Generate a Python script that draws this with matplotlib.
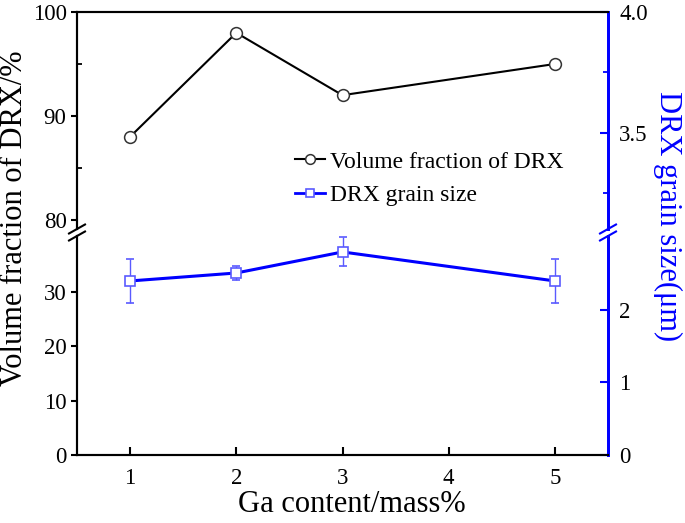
import matplotlib
matplotlib.use("Agg")
import matplotlib.pyplot as plt
from matplotlib.lines import Line2D

plt.rcParams['font.family'] = ['Liberation Serif', 'DejaVu Serif']

# data
ga = [1, 2, 3, 5]
drx_fraction = [88, 98, 92, 95]
grain_size = [2.40, 2.51, 2.80, 2.40]
grain_err = [0.30, 0.10, 0.20, 0.30]
x_ticks = [1, 2, 3, 4, 5]

W, H = 685, 523
fig = plt.figure(figsize=(W / 100, H / 100), dpi=100)

def frac_box(x0, y0, x1, y1):
    # pixel box (top-left origin) -> figure fractions
    return [x0 / W, 1 - y1 / H, (x1 - x0) / W, (y1 - y0) / H]

ax_top = fig.add_axes(frac_box(77, 12, 608, 229))
ax_bot = fig.add_axes(frac_box(77, 236, 608, 455))
ax_top_r = ax_top.twinx()
ax_bot_r = ax_bot.twinx()

blue = '#0000ff'
light_blue = '#5a5aff'

# volume fraction (top left)
ax_top.plot(ga, drx_fraction, color='black', lw=1.5, marker='o', ms=8.5,
            mfc='white', mec='#333333', mew=1.1, zorder=3)

# grain size (bottom right)
ax_bot_r.plot(ga, grain_size, color=blue, lw=2.2, zorder=2)
ax_bot_r.errorbar(ga, grain_size, yerr=grain_err, fmt='s', ms=7.5, mfc='white',
                  mec=light_blue, mew=1.2, ecolor=light_blue, elinewidth=1.0,
                  capsize=3, capthick=1.0, zorder=3, clip_on=False)

for a in (ax_top, ax_bot, ax_top_r, ax_bot_r):
    a.set_xlim(0.5, 5.5)

ax_top.set_ylim(79.13, 100)
ax_top_r.set_ylim(3.103, 4.0)
ax_bot.set_ylim(0, 40.3)
ax_bot_r.set_ylim(0, 3.02)

# spines
for a in (ax_top, ax_top_r):
    a.spines['bottom'].set_visible(False)
for a in (ax_bot, ax_bot_r):
    a.spines['top'].set_visible(False)
for a in (ax_top, ax_bot, ax_top_r, ax_bot_r):
    a.spines['left'].set_linewidth(1.5)
    a.spines['top'].set_linewidth(1.5)
    a.spines['bottom'].set_linewidth(1.5)
    a.spines['right'].set_linewidth(2.0)
    a.spines['right'].set_color(blue)

# ticks
ax_top.set_yticks([80, 90, 100])
ax_top.set_yticks([85, 95], minor=True)
ax_bot.set_yticks([0, 10, 20, 30])
ax_top_r.set_yticks([3.5, 4.0])
ax_top_r.set_yticklabels(['3.5', '4.0'])
ax_top_r.set_yticks([3.25, 3.75], minor=True)
ax_bot_r.set_yticks([0, 1, 2])

ax_top.tick_params(axis='x', which='both', bottom=False, labelbottom=False)
ax_top_r.tick_params(axis='x', which='both', bottom=False, labelbottom=False)
ax_bot.set_xticks(x_ticks)
ax_bot.tick_params(axis='x', direction='in', length=6, width=1.5, pad=9,
                   labelsize=16.5)

for a in (ax_top, ax_bot):
    a.tick_params(axis='y', which='major', direction='out', length=4.5,
                  width=1.5, pad=3, labelsize=16.5)
    a.tick_params(axis='y', which='minor', direction='in', length=3.5, width=1.3)
for a in (ax_top_r, ax_bot_r):
    a.tick_params(axis='y', which='major', direction='in', length=5.5,
                  width=1.5, color=blue, pad=8, labelsize=16.5,
                  labelcolor='black')
    a.tick_params(axis='y', which='minor', direction='in', length=3.5,
                  width=1.3, color=blue)

# break marks on both y axes
def slash(xpix, ypix, color):
    fig.add_artist(Line2D([(xpix - 8) / W, (xpix + 8) / W],
                          [1 - (ypix + 4.5) / H, 1 - (ypix - 4.5) / H],
                          color=color, lw=1.5, transform=fig.transFigure))

for yp in (229, 236):
    slash(77, yp, 'black')
    slash(608, yp, blue)

# axis labels
fig.text(15 / W, 1 - 218 / H, 'Volume fraction of DRX/%', rotation=90,
         ha='center', va='center', fontsize=22)
fig.text(668 / W, 1 - 216 / H, 'DRX grain size(\u03bcm)', rotation=270,
         ha='center', va='center', fontsize=22, color=blue)
fig.text(352 / W, 1 - 505 / H, 'Ga content/mass%', ha='center', va='center',
         fontsize=22)

# legend
handles = [
    Line2D([], [], color='black', lw=1.5, marker='o', ms=7, mfc='white',
           mec='#333333', mew=1.1),
    Line2D([], [], color=blue, lw=2.0, marker='s', ms=6, mfc='white',
           mec=light_blue, mew=1.2),
]
ax_top.legend(handles, ['Volume fraction of DRX', 'DRX grain size'],
              loc='upper left', bbox_to_anchor=(295 / W, 1 - 151 / H),
              bbox_transform=fig.transFigure, frameon=False, fontsize=17,
              handlelength=1.27, handletextpad=0.2, borderpad=0,
              borderaxespad=0, labelspacing=0.5)

fig.savefig('out.png', dpi=100)
